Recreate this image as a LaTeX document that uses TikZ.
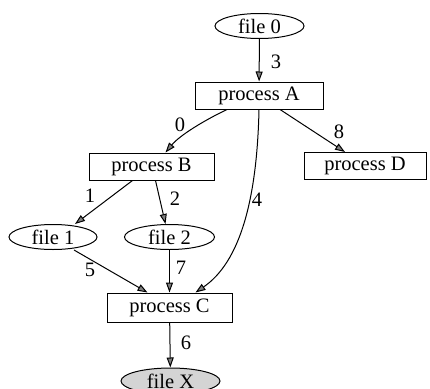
\documentclass[tikz,border=0pt]{standalone}
\usepackage{fontspec}
\setmainfont{Liberation Serif}
\usetikzlibrary{shapes.geometric,arrows.meta}
\begin{document}
\begin{tikzpicture}[x=1pt,y=-1pt, line width=1pt,
  every node/.style={font=\fontsize{20.5}{22}\selectfont},
  proc/.style={draw, rectangle, minimum height=27pt, inner sep=0pt},
  filenode/.style={draw, ellipse, minimum width=89pt, minimum height=25pt, inner sep=0pt},
  lbl/.style={inner sep=0pt},
  edge/.style={draw, -{Triangle[length=10pt,width=7pt,fill=gray]}}]
\useasboundingbox (0,0) rectangle (430,388);
\node[filenode] (f0) at (259.5,26) {file 0};
\node[proc, minimum width=128pt] (pA) at (259,95.5) {process A};
\node[proc, minimum width=125pt] (pB) at (151.5,166.5) {process B};
\node[proc, minimum width=122pt] (pD) at (365,166) {process D};
\node[filenode, minimum width=88pt] (f1) at (53,237) {file 1};
\node[filenode, minimum width=90pt] (f2) at (169.5,237) {file 2};
\node[proc, minimum width=125pt, minimum height=29pt] (pC) at (169.5,307.5) {process C};
\node[filenode, fill=black!17, minimum width=99pt, minimum height=26pt] (fX) at (170.5,381) {file X};

\path[edge] (f0) -- (pA);
\node[lbl] (l3) at (276,62) {3};
\path[edge] ([xshift=-32pt]pA.south) .. controls (205,120) and (180,135) .. ([xshift=14pt]pB.north);
\node[lbl] (l0) at (180,125) {0};
\path[edge] (pA.south) .. controls (257,200) and (240,262) .. ([xshift=26pt]pC.north);
\node[lbl] (l4) at (257,200) {4};
\path[edge] ([xshift=21pt]pA.south) -- ([xshift=-20pt]pD.north);
\node[lbl] (l8) at (339,132) {8};
\path[edge] ([xshift=-19pt]pB.south) -- ([xshift=22pt]f1.north);
\node[lbl] (l1) at (90,196) {1};
\path[edge] ([xshift=4pt]pB.south) -- ([xshift=-4pt]f2.north);
\node[lbl] (l2) at (175,199) {2};
\path[edge] ([xshift=21pt]f1.south) -- ([xshift=-22pt]pC.north);
\node[lbl] (l5) at (90,270) {5};
\path[edge] (f2) -- (pC);
\node[lbl] (l7) at (181,268) {7};
\path[edge] (pC) -- (fX);
\node[lbl] (l6) at (186,343) {6};
\end{tikzpicture}
\end{document}
